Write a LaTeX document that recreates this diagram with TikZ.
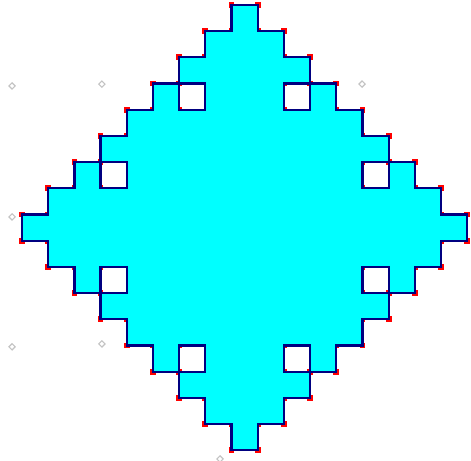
\documentclass[tikz,border=0pt]{standalone}
\usepackage{xcolor}
\usepackage{tikz}
\definecolor{fillcyan}{RGB}{0,255,255}
\definecolor{rimnavy}{RGB}{0,0,128}
\definecolor{vtxred}{RGB}{255,0,0}
\definecolor{hintgray}{RGB}{195,195,195}
\tikzset{
    island/.style={fill=fillcyan,even odd rule},
    rim/.style={draw=rimnavy,line width=2.4pt,line join=miter},
    hint/.style={draw=hintgray,line width=1.2pt},
}
\newcommand{\holes}{6/3,10/3,3/6,13/6,3/10,13/10,6/13,10/13}
\newcommand{\vtx}[1]{\fill[vtxred] (#1) ++(-.11,-.11) rectangle ++(.22,.22);}

\begin{document}
\begin{tikzpicture}[x=1cm,y=-1cm]
\useasboundingbox (-0.84,-0.19) rectangle (17.14,17.40);
\foreach \x/\y in {-0.38/3.09,3.05/3.02,12.98/3.02,-0.38/8.09,-0.38/13.05,3.05/12.94,7.56/17.33}
  \draw[hint] (\x,\y) +(-.12,0) -- +(0,-.12) -- +(.12,0) -- +(0,.12) -- cycle;
\foreach \k in {0,...,8}{
  \vtx{\k,8-\k} \vtx{17-\k,8-\k} \vtx{\k,9+\k} \vtx{17-\k,9+\k}
}
\foreach \k in {0,...,7}{
  \vtx{\k+1,8-\k} \vtx{16-\k,8-\k} \vtx{\k+1,9+\k} \vtx{16-\k,9+\k}
}
\foreach \i/\j in \holes {\vtx{\i,\j} \vtx{\i,\j+1}}
\path[island,rim] (0,8)
  \foreach \k in {1,...,8}{ -- ++(1,0) -- ++(0,-1) } -- ++(1,0)
  \foreach \k in {1,...,8}{ -- ++(0,1) -- ++(1,0) } -- ++(0,1)
  \foreach \k in {1,...,8}{ -- ++(-1,0) -- ++(0,1) } -- ++(-1,0)
  \foreach \k in {1,...,8}{ -- ++(0,-1) -- ++(-1,0) } -- cycle
  \foreach \i/\j in \holes { (\i,\j) rectangle ++(1,1) };
\end{tikzpicture}
\end{document}
